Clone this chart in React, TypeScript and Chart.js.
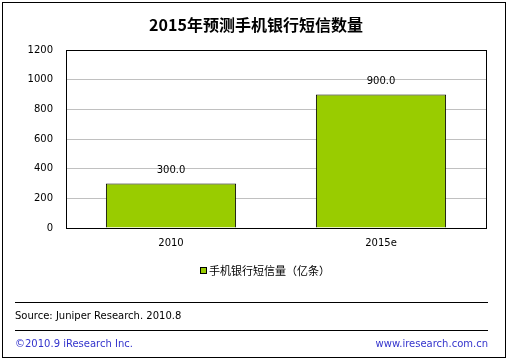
import React, { useEffect, useRef } from "react";
import { Chart, registerables } from "chart.js";

Chart.register(...registerables);

const categories = ["2010", "2015e"];
const values = [300, 900];
const seriesName = "手机银行短信量（亿条）";
const title = "2015年预测手机银行短信数量";
const source = "Source: Juniper Research. 2010.8";
const copyright = "©2010.9 iResearch Inc.";
const website = "www.iresearch.com.cn";
const FONT = "'DejaVu Sans', 'Noto Sans CJK SC', sans-serif";
const CJK = "'Noto Sans CJK SC', 'DejaVu Sans', sans-serif";

const decor = {
  id: "decor",
  beforeDraw(chart: any) {
    const c = chart.ctx;
    c.save();
    c.fillStyle = "#fff";
    c.fillRect(0, 0, chart.width, chart.height);
    c.restore();
  },
  afterDatasetsDraw(chart: any) {
    const c = chart.ctx;
    const a = chart.chartArea;
    c.save();
    c.strokeStyle = "#000";
    c.lineWidth = 1;
    c.strokeRect(Math.round(a.left) + 0.5, Math.round(a.top) + 0.5, Math.round(a.right - a.left), Math.round(a.bottom - a.top));
    c.strokeRect(2.5, 2.5, 503, 355);
    c.fillStyle = "#000";
    c.font = `bold 16px ${CJK}`;
    c.textAlign = "center";
    c.textBaseline = "middle";
    c.fillText(title, 256, 25);
    const meta = chart.getDatasetMeta(0);
    c.font = `10px ${FONT}`;
    meta.data.forEach((el: any, i: number) => {
      c.fillText(values[i].toFixed(1), el.x, el.y - 13);
    });
    c.fillStyle = "#99cc00";
    c.fillRect(201, 268, 5, 5);
    c.strokeStyle = "#000";
    c.strokeRect(200.5, 267.5, 6, 6);
    c.fillStyle = "#000";
    c.font = `11px ${CJK}`;
    c.textAlign = "left";
    c.fillText(seriesName, 209, 271);
    c.beginPath();
    c.moveTo(15, 302.5);
    c.lineTo(488, 302.5);
    c.moveTo(15, 330.5);
    c.lineTo(488, 330.5);
    c.stroke();
    c.font = `10px ${FONT}`;
    c.fillText(source, 15, 316);
    c.fillStyle = "#3333cc";
    c.fillText(copyright, 15, 344);
    c.textAlign = "right";
    c.fillText(website, 488, 344);
    c.restore();
  },
};

export default function App() {
  const ref = useRef<HTMLCanvasElement>(null);
  useEffect(() => {
    document.body.style.margin = "0";
    const chart = new Chart(ref.current!, {
      type: "bar",
      data: {
        labels: categories,
        datasets: [
          {
            label: seriesName,
            data: values,
            backgroundColor: "#99cc00",
            borderColor: "#000",
            borderWidth: 1,
            barPercentage: 0.62,
            categoryPercentage: 1,
          },
        ],
      },
      options: {
        animation: false,
        responsive: false,
        devicePixelRatio: 1,
        layout: { padding: { left: 0, right: 24, top: 50, bottom: 103 } },
        plugins: { legend: { display: false }, tooltip: { enabled: false } },
        scales: {
          x: {
            grid: { display: false, drawTicks: false },
            border: { display: false },
            ticks: { color: "#000", font: { size: 10, family: FONT }, padding: 9 },
            afterFit: (s: any) => { s.height = 30; },
          },
          y: {
            min: 0,
            max: 1200,
            grid: {
              drawTicks: false,
              color: (ctx: any) => (ctx.tick && (ctx.tick.value === 0 || ctx.tick.value === 1200) ? "rgba(0,0,0,0)" : "#c0c0c0"),
            },
            border: { display: false },
            ticks: {
              stepSize: 200,
              color: "#000",
              font: { size: 10, family: FONT },
              padding: 13,
              callback: (v: any) => String(v),
            },
            afterFit: (s: any) => { s.width = 66; },
          },
        },
      },
      plugins: [decor],
    });
    return () => chart.destroy();
  }, []);
  return (
    <div style={{ width: 510, height: 361 }}>
      <canvas ref={ref} width={510} height={361} style={{ display: "block" }} />
    </div>
  );
}
